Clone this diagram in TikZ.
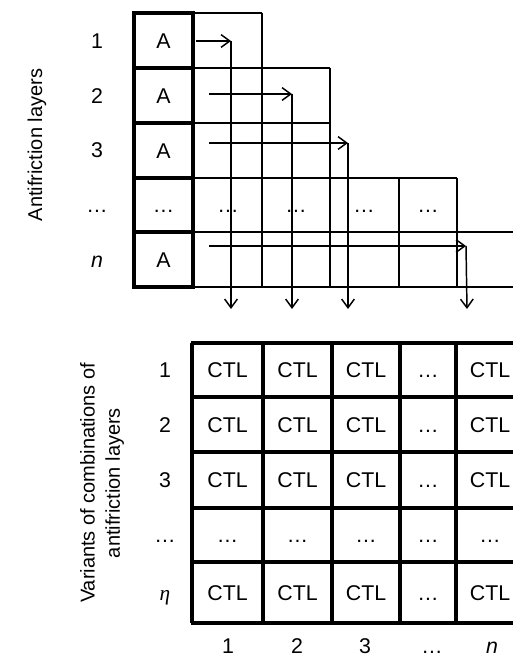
\documentclass[tikz,border=0pt]{standalone}
\usepackage{fontspec}
\setmainfont{Liberation Sans}
\newfontfamily\seriffont{Liberation Serif}
\usetikzlibrary{arrows.meta}
\begin{document}
\begin{tikzpicture}[x=0.75pt,y=-0.75pt,
  every node/.style={font=\fontsize{16}{19}\selectfont, inner sep=0pt, text height=11.4pt, text depth=0pt},
  thinline/.style={line width=1.5pt},
  thickline/.style={line width=3pt},
  arr/.style={line width=1.1pt, -{Straight Barb[length=6.5pt,width=9.5pt,line width=1.1pt]}},
  vlabel/.style={rotate=90, align=center, text height=, text depth=, font=\fontsize{15}{19}\selectfont},
]
\useasboundingbox (0,0) rectangle (512,659);

% ---------- upper grid: thin lines ----------
\draw[thinline] (193,13) -- (262,13);
\draw[thinline] (262,13) -- (262,287);
\draw[thinline] (193,68) -- (330,68);
\draw[thinline] (330,68) -- (330,287);
\draw[thinline] (193,123) -- (330,123);
\draw[thinline] (193,178) -- (457,178);
\draw[thinline] (399,178) -- (399,287);
\draw[thinline] (457,178) -- (457,287);
\draw[thinline] (193,232) -- (516,232);
\draw[thinline] (193,287) -- (516,287);

% ---------- upper grid: thick A column ----------
\draw[thickline] (134,13) rectangle (193,287);
\foreach \yy in {68,123,178,232} \draw[thickline] (134,\yy) -- (193,\yy);

% ---------- upper labels ----------
\node (r1) at (97,41) {1};
\node (r2) at (97,96) {2};
\node (r3) at (97,150) {3};
\node (r4) at (97,205) {…};
\node (r5) at (97,260) {\itshape n};

\node (A1) at (163.5,40.5) {A};
\node (A2) at (163.5,95.5) {A};
\node (A3) at (163.5,150.5) {A};
\node (A4) at (163.5,205) {…};
\node (A5) at (163.5,259.5) {A};

\node (u1) at (228,205) {…};
\node (u2) at (296,205) {…};
\node (u3) at (364,205) {…};
\node (u4) at (428,205) {…};

\node[vlabel] (lblA) at (37,145) {Antifriction layers};

% ---------- arrows ----------
\coordinate (s1) at (196,41);  \coordinate (h1) at (231,41);  \coordinate (d1) at (231,309);
\coordinate (s2) at (209,94);  \coordinate (h2) at (292,94);  \coordinate (d2) at (292,309);
\coordinate (s3) at (209,143); \coordinate (h3) at (348,143); \coordinate (d3) at (348,309);
\coordinate (s4) at (209,246); \coordinate (h4) at (466,246); \coordinate (d4) at (467,309);
\draw[arr] (s1) -- (h1);
\draw[arr] (s2) -- (h2);
\draw[arr] (s3) -- (h3);
\draw[arr] (s4) -- (h4);
\draw[arr] (h1) -- (d1);
\draw[arr] (h2) -- (d2);
\draw[arr] (h3) -- (d3);
\draw[arr] (h4) -- (d4);

% ---------- lower grid ----------
\foreach \xx in {192,263,332,400,456} \draw[thickline] (\xx,343) -- (\xx,623);
\foreach \yy in {343,397,452,508,562,623} \draw[thickline] (190.5,\yy) -- (526,\yy);

\foreach \yy/\i in {370/1,424.5/2,480/3,592.5/5} {
  \node (c\i-1) at (227.5,\yy) {CTL};
  \node (c\i-2) at (297.5,\yy) {CTL};
  \node (c\i-3) at (366,\yy) {CTL};
  \node (c\i-4) at (428,\yy) {…};
  \node (c\i-5) at (490,\yy) {CTL};
}
\node (c4-1) at (227.5,535) {…};
\node (c4-2) at (297.5,535) {…};
\node (c4-3) at (366,535) {…};
\node (c4-4) at (428,535) {…};
\node (c4-5) at (490,535) {…};

\node (v1) at (165,370) {1};
\node (v2) at (165,424.5) {2};
\node (v3) at (165,480) {3};
\node (v4) at (165,535) {…};
\node (v5) at (165,592.5) {\seriffont\itshape η};

\node (k1) at (228,646) {1};
\node (k2) at (297,646) {2};
\node (k3) at (365,646) {3};
\node (k4) at (432,646) {…};
\node (k5) at (492,646) {\itshape n};

\node[vlabel] (lblV) at (102,483) {Variants of combinations of\\antifriction layers};
\end{tikzpicture}
\end{document}
